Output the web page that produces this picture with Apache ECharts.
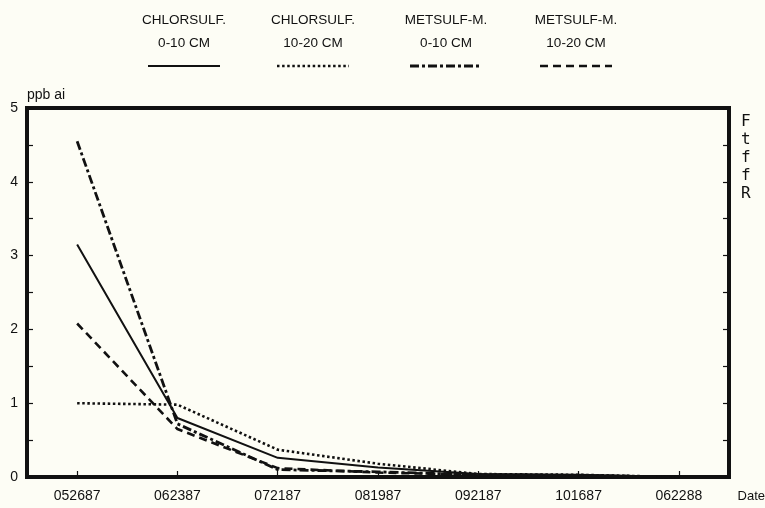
<!DOCTYPE html>
<html>
<head>
<meta charset="utf-8">
<script src="https://cdn.jsdelivr.net/npm/echarts@6/dist/echarts.min.js"></script>
<style>
html,body{margin:0;padding:0;background:#fdfdf5;}
#c{width:765px;height:508px;}
</style>
</head>
<body>
<div id="c"></div>
<script>
const categories = ['052687','062387','072187','081987','092187','101687','062288'];
const seriesNames = ['CHLORSULF.\n0-10 CM','CHLORSULF.\n10-20 CM','METSULF-M.\n0-10 CM','METSULF-M.\n10-20 CM'];
const chlorsulf0_10  = [3.15, 0.80, 0.26, 0.13, 0.04, 0.03, 0];
const chlorsulf10_20 = [1.00, 0.98, 0.37, 0.18, 0.04, 0.03, 0];
const metsulf0_10    = [4.55, 0.72, 0.10, 0.07, 0.03, 0.02, 0];
const metsulf10_20   = [2.08, 0.65, 0.12, 0.06, 0.03, 0.02, 0];
const yTicks = [0,1,2,3,4,5];
const sideText = ['F','t','f','f','R'];

const values = [chlorsulf0_10, chlorsulf10_20, metsulf0_10, metsulf10_20];
const styles = [
  {type:'solid', width:2},
  {type:[2.5,2.6], width:2.6},
  {type:[9,3,3,3], width:2.8},
  {type:[8,5], width:2.6}
];
const legendX = [184, 313, 446, 576];
const ink = '#111';
const font = '"Liberation Sans", Arial, sans-serif';

const graphics = [];
seriesNames.forEach((n, i) => {
  graphics.push({
    type:'text', x:legendX[i], y:9,
    style:{text:n, fill:ink, font:'13.5px ' + font, align:'center', verticalAlign:'top', lineHeight:23}
  });
  graphics.push({
    type:'line', x:legendX[i]-36, y:66,
    shape:{x1:0,y1:0,x2:72,y2:0},
    style:{stroke:ink, lineWidth:styles[i].width, lineDash: styles[i].type === 'solid' ? null : styles[i].type}
  });
});
sideText.forEach((t, i) => {
  graphics.push({
    type:'text', x:741, y:114 + i*18,
    style:{text:t, fill:ink, font:'16px "DejaVu Sans Mono", monospace', verticalAlign:'top'}
  });
});
graphics.push({
  type:'text', x:765, y:490,
  style:{text:'Date', fill:ink, font:'13px ' + font, align:'right', verticalAlign:'top'}
});

const chart = echarts.init(document.getElementById('c'), null, {renderer:'canvas'});
chart.setOption({
  backgroundColor:'#fdfdf5',
  animation:false,
  grid:{left:27, right:36, top:108, bottom:31, show:true, borderColor:ink, borderWidth:4, backgroundColor:'transparent'},
  xAxis:{
    type:'category', data:categories, boundaryGap:true,
    axisLine:{show:false},
    axisTick:{show:true, inside:true, length:6, alignWithLabel:true, lineStyle:{color:ink, width:1.2}},
    axisLabel:{color:ink, fontSize:14, fontFamily:font, margin:12, interval:0},
    splitLine:{show:false}
  },
  yAxis:[{
    type:'value', min:0, max:5, interval:0.5,
    name:'ppb ai', nameLocation:'end', nameGap:6,
    nameTextStyle:{color:ink, fontSize:14, fontFamily:font, align:'left'},
    axisLine:{show:false},
    axisTick:{show:true, inside:true, length:6, lineStyle:{color:ink, width:1.2}},
    axisLabel:{color:ink, fontSize:14, fontFamily:font, margin:9,
      formatter:v => (yTicks.indexOf(v) >= 0 ? String(v) : '')},
    splitLine:{show:false}
  },{
    type:'value', min:0, max:5, interval:0.5, position:'right',
    axisLine:{show:false},
    axisTick:{show:true, inside:true, length:6, lineStyle:{color:ink, width:1.2}},
    axisLabel:{show:false},
    splitLine:{show:false}
  }],
  series: values.map((d, i) => ({
    name: seriesNames[i], type:'line', data:d, symbol:'none',
    lineStyle:{color:ink, width:styles[i].width, type:styles[i].type, cap:'butt'},
    z: 3
  })),
  graphic: graphics
});
</script>
</body>
</html>
